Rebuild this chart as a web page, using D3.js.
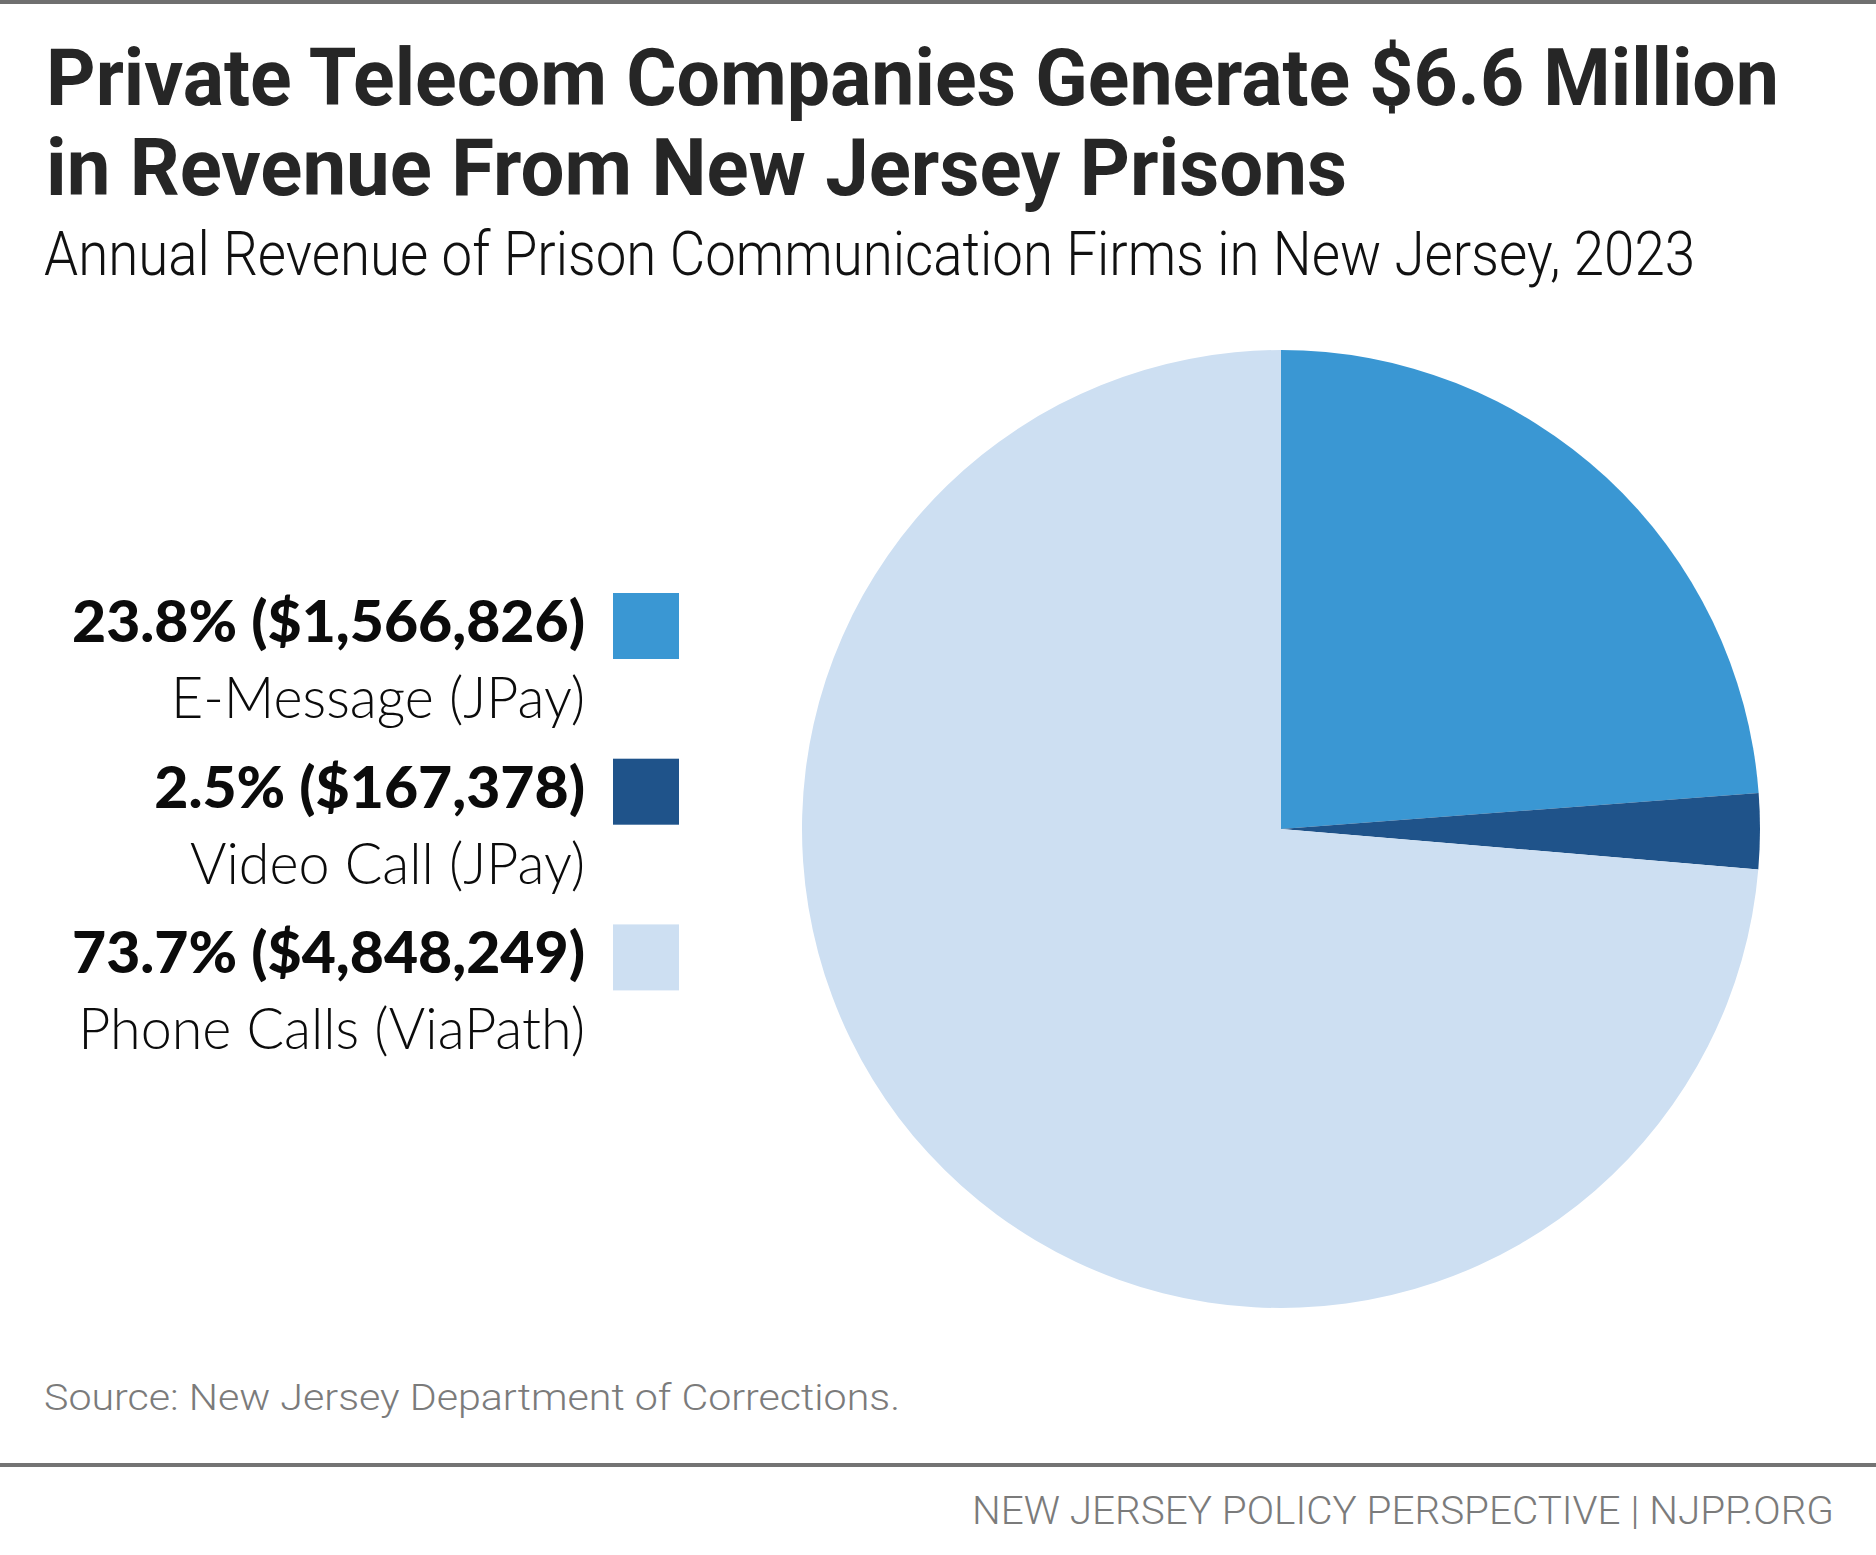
<!DOCTYPE html>
<html><head><meta charset="utf-8">
<script src="https://cdn.jsdelivr.net/npm/d3@7"></script>
<style>body{margin:0;background:#fff}svg{display:block}</style>
</head><body>
<svg id="chart" width="1876" height="1555"></svg>
<script>
// ---- data ----
const categories = ["E-Message (JPay)", "Video Call (JPay)", "Phone Calls (ViaPath)"];
const revenues = [1566826, 167378, 4848249];
const shareLabels = ["23.8%", "2.5%", "73.7%"];
const sliceColors = ["#3a97d3", "#1f538a", "#cddff2"];
const titleLines = ["Private Telecom Companies Generate $6.6 Million", "in Revenue From New Jersey Prisons"];
const subtitle = "Annual Revenue of Prison Communication Firms in New Jersey, 2023";
const sourceText = "Source: New Jersey Department of Corrections.";
const footerText = "NEW JERSEY POLICY PERSPECTIVE | NJPP.ORG";

const svg = d3.select("#chart");
const W = 1876, H = 1555;
svg.append("rect").attr("width", W).attr("height", H).attr("fill", "#fff");

// rules
svg.append("rect").attr("x", 0).attr("y", 0).attr("width", W).attr("height", 4).attr("fill", "#6f6f6f");
svg.append("rect").attr("x", 0).attr("y", 1463).attr("width", W).attr("height", 4).attr("fill", "#737373");

function squeeze(sel, factor) {
  sel.each(function () {
    const n = this.getComputedTextLength();
    d3.select(this).attr("textLength", n * factor).attr("lengthAdjust", "spacingAndGlyphs");
  });
}
function factorFor(sel, target) { return target / sel.node().getComputedTextLength(); }

// title
const titleWidths = [1733, 1301];
const tl = svg.selectAll("text.title").data(titleLines).join("text")
  .attr("class", "title")
  .attr("x", 46).attr("y", (d, i) => 105 + i * 90)
  .attr("font-family", "Roboto").attr("font-weight", 700).attr("font-size", 80)
  .attr("fill", "#262626").text(d => d);
tl.each(function (d, i) {
  d3.select(this).attr("textLength", titleWidths[i]).attr("lengthAdjust", "spacingAndGlyphs");
});

// subtitle
const st = svg.append("text").attr("x", 44).attr("y", 275)
  .attr("font-family", "Roboto").attr("font-weight", 300).attr("font-size", 61)
  .attr("fill", "#111").text(subtitle);
squeeze(st, factorFor(st, 1651));

// pie
const cx = 1281, cy = 829, R = 479;
const pie = d3.pie().sort(null).value(d => d);
const arc = d3.arc().innerRadius(0).outerRadius(R);
svg.append("g").attr("transform", `translate(${cx},${cy})`)
  .selectAll("path").data(pie(revenues)).join("path")
  .attr("d", arc).attr("fill", (d, i) => sliceColors[i]);

// legend
const fmt = d3.format("$,");
const rowY = d3.scaleLinear().domain([0, 1]).range([0, 165.7]);
const legRight = 585;
const lg = svg.append("g");
const boldT = lg.selectAll("text.lb").data(revenues).join("text")
  .attr("class", "lb")
  .attr("x", legRight).attr("y", (d, i) => 642 + rowY(i))
  .attr("text-anchor", "end")
  .attr("font-family", "Lato").attr("font-weight", 900).attr("font-size", 57)
  .attr("fill", "#0b0b0b")
  .text((d, i) => `${shareLabels[i]} (${fmt(d)})`);
const bf = factorFor(boldT.filter((d, i) => i === 0), 513);
squeeze(boldT, bf);
const normT = lg.selectAll("text.ln").data(categories).join("text")
  .attr("class", "ln")
  .attr("x", legRight).attr("y", (d, i) => 718 + rowY(i))
  .attr("text-anchor", "end")
  .attr("font-family", "Lato").attr("font-weight", 300).attr("font-size", 57)
  .attr("fill", "#0b0b0b").text(d => d);
const nf = factorFor(normT.filter((d, i) => i === 0), 585 - 171);
squeeze(normT, nf);
lg.selectAll("rect").data(sliceColors).join("rect")
  .attr("x", 613).attr("y", (d, i) => 593 + rowY(i))
  .attr("width", 66).attr("height", 66).attr("fill", d => d);

// source
const so = svg.append("text").attr("x", 44).attr("y", 1410)
  .attr("font-family", "Roboto").attr("font-weight", 300).attr("font-size", 36)
  .attr("fill", "#7b7b7b").text(sourceText);
squeeze(so, factorFor(so, 856));

// footer
const fo = svg.append("text").attr("x", 1834).attr("y", 1524).attr("text-anchor", "end")
  .attr("font-family", "Roboto").attr("font-weight", 300).attr("font-size", 39)
  .attr("fill", "#7b7b7b").text(footerText);
squeeze(fo, factorFor(fo, 862));
</script>
</body></html>
